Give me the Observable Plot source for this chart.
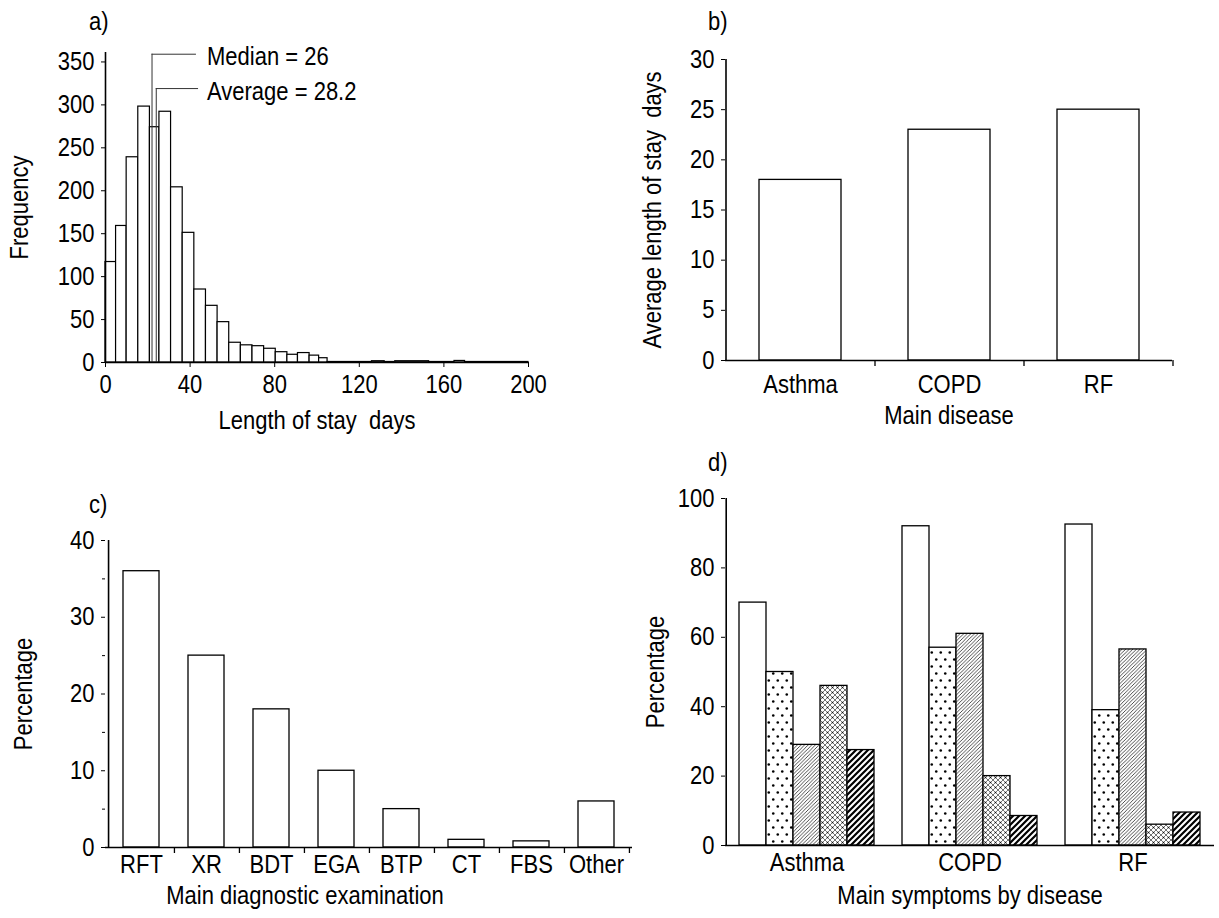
<!DOCTYPE html>
<html>
<head>
<meta charset="utf-8">
<script src="https://cdn.jsdelivr.net/npm/d3@7"></script>
<script src="https://cdn.jsdelivr.net/npm/@observablehq/plot@0.6"></script>
<style>
  html, body { margin: 0; padding: 0; background: #fff; }
  #page { position: relative; width: 1219px; height: 918px; overflow: hidden; background: #fff;
          font-family: 'Liberation Sans', Arial, sans-serif; color: #000; }
  .panel { position: absolute; }
  .tag { position: absolute; font-size: 25px; line-height: 1; transform: scaleX(0.88); transform-origin: left top; }
</style>
</head>
<body>
<svg style="position:absolute;width:0;height:0" aria-hidden="true">
  <defs>
    <pattern id="pDots" width="9" height="14" patternUnits="userSpaceOnUse">
      <rect width="9" height="14" fill="#fff"/>
      <circle cx="2.25" cy="3.5" r="1.3" fill="#000"/>
      <circle cx="6.75" cy="10.5" r="1.3" fill="#000"/>
    </pattern>
    <pattern id="pHatch" width="3.6" height="3.6" patternUnits="userSpaceOnUse">
      <rect width="3.6" height="3.6" fill="#fff"/>
      <path d="M-0.9,0.9 L0.9,-0.9 M0,3.6 L3.6,0 M2.7,4.5 L4.5,2.7" stroke="#222" stroke-width="0.8"/>
    </pattern>
    <pattern id="pCross" width="5" height="5" patternUnits="userSpaceOnUse">
      <rect width="5" height="5" fill="#fff"/>
      <path d="M0,0 L5,5 M5,0 L0,5" stroke="#444" stroke-width="0.75"/>
      <circle cx="2.5" cy="2.5" r="0.8" fill="#111"/>
    </pattern>
    <pattern id="pThick" width="6" height="6" patternUnits="userSpaceOnUse">
      <rect width="6" height="6" fill="#fff"/>
      <path d="M-1.5,1.5 L1.5,-1.5 M0,6 L6,0 M4.5,7.5 L7.5,4.5" stroke="#000" stroke-width="2.2"/>
    </pattern>
  </defs>
</svg>
<div id="page"></div>
<script>
// ---------------- Data: panel a (histogram of length of stay) ----------------
const histStart = [0, 5, 10, 15.5, 21, 25.5, 31, 36.5, 42, 47.5, 53, 58.5, 64, 69.5, 75, 80.5, 86, 91, 96.5, 101];
const histEnd   = [5, 10, 15.5, 21, 25.5, 31, 36.5, 42, 47.5, 53, 58.5, 64, 69.5, 75, 80.5, 86, 91, 96.5, 101, 105];
const histFreq  = [117, 159, 239, 298, 274, 292, 204, 151, 85, 66, 47, 23, 20, 19, 16, 12, 9, 11, 8, 5];
const tailStart = [105, 126, 132, 137, 153, 165, 170];
const tailEnd   = [126, 132, 137, 153, 165, 170, 200];
const tailFreq  = [0.6, 1.5, 0.6, 1.5, 0.6, 1.8, 0.6];
const aXTicks = [0, 40, 80, 120, 160, 200];
const aYTicks = [0, 50, 100, 150, 200, 250, 300, 350];
const statLabels   = ["Median = 26", "Average = 28.2"];
const statLeaderX  = [22, 24];
const statLeaderEndX = [43, 44];
const statLevel    = [359, 319];
const statTextX    = [48, 48];

// ---------------- Data: panel b ----------------
const diseases = ["Asthma", "COPD", "RF"];
const avgStay  = [18, 23, 25];
const bYTicks  = [0, 5, 10, 15, 20, 25, 30];

// ---------------- Data: panel c ----------------
const exams   = ["RFT", "XR", "BDT", "EGA", "BTP", "CT", "FBS", "Other"];
const examPct = [36, 25, 18, 10, 5, 1, 0.8, 6];
const cYTicks = [0, 10, 20, 30, 40];
const cMinorTicks = [5, 15, 25, 35];
const cTitle = "Main diagnostic examination";

// ---------------- Data: panel d ----------------
const symptoms  = ["Symptom 1", "Symptom 2", "Symptom 3", "Symptom 4", "Symptom 5"];
const asthmaPct = [70, 50, 29, 46, 27.5];
const copdPct   = [92, 57, 61, 20, 8.5];
const rfPct     = [92.5, 39, 56.5, 6, 9.5];
const dYTicks   = [0, 20, 40, 60, 80, 100];

// ---------------- Styling ----------------
const FONT = "'Liberation Sans', Arial, sans-serif";
const NARROW = 0.88; // condensed look of the original typeface
const baseStyle = {fontFamily: FONT, fontSize: "25px", color: "#000", background: "transparent", overflow: "visible"};
const patternOf = {
  "Symptom 1": "white",
  "Symptom 2": "url(#pDots)",
  "Symptom 3": "url(#pHatch)",
  "Symptom 4": "url(#pCross)",
  "Symptom 5": "url(#pThick)"
};
const page = document.getElementById("page");
function place(node, left, top) {
  const div = document.createElement("div");
  div.className = "panel";
  div.style.left = left + "px";
  div.style.top = top + "px";
  div.appendChild(node);
  page.appendChild(div);
  node.querySelectorAll("text").forEach((t) => {
    if (t.querySelector("tspan")) return;
    const len = t.getComputedTextLength();
    if (len > 0) {
      t.setAttribute("textLength", (len * NARROW).toFixed(2));
      t.setAttribute("lengthAdjust", "spacingAndGlyphs");
    }
  });
}
function tag(text, left, top) {
  const d = document.createElement("div");
  d.className = "tag";
  d.textContent = text;
  d.style.left = left + "px";
  d.style.top = top + "px";
  page.appendChild(d);
}

// ---------------- Panel a ----------------
const histBins = histStart.map((s, i) => ({x1: s, x2: histEnd[i], f: histFreq[i]}));
const tailBins = tailStart.map((s, i) => ({x1: s, x2: tailEnd[i], f: tailFreq[i]}));
const stats = statLabels.map((label, i) => ({label, lx: statLeaderX[i], ex: statLeaderEndX[i], ly: statLevel[i], tx: statTextX[i]}));
const A = {w: 560, h: 440, ml: 105, mr: 32, mt: 52, mb: 78};
const aPlot = Plot.plot({
  width: A.w, height: A.h, marginLeft: A.ml, marginRight: A.mr, marginTop: A.mt, marginBottom: A.mb,
  style: baseStyle,
  x: {domain: [0, 200], ticks: aXTicks, tickSize: 5, tickPadding: 8, tickFormat: d3.format("d"),
      label: "Length of stay\u00a0 days", labelAnchor: "center", labelOffset: 66, labelArrow: "none"},
  y: {domain: [0, 361], ticks: aYTicks, tickSize: 4, tickPadding: 7, tickFormat: d3.format("d"),
      label: "Frequency", labelAnchor: "center", labelOffset: 95, labelArrow: "none"},
  marks: [
    Plot.rect(histBins, {x1: "x1", x2: "x2", y1: () => 0, y2: "f", fill: "white", stroke: "black", strokeWidth: 1.2}),
    Plot.rect(tailBins, {x1: "x1", x2: "x2", y1: () => 0, y2: "f", fill: "white", stroke: "black", strokeWidth: 1.2}),
    Plot.ruleX(stats, {x: "lx", y1: () => 0, y2: "ly", stroke: "#333", strokeWidth: 1}),
    Plot.ruleY(stats, {y: "ly", x1: "lx", x2: "ex", stroke: "#333", strokeWidth: 1}),
    Plot.text(stats, {x: "tx", y: "ly", text: "label", textAnchor: "start", fontSize: 25, dy: 3}),
    Plot.ruleX([0], {strokeWidth: 1.6}),
    Plot.ruleY([0], {strokeWidth: 1.6})
  ]
});
place(aPlot, 0, 0);
tag("a)", 89, 9);

// ---------------- Panel b ----------------
const B = {w: 619, h: 440, ml: 125, mr: 47, mt: 59, mb: 80};
const bInnerW = B.w - B.ml - B.mr, bInnerH = B.h - B.mt - B.mb;
const bStep = bInnerW / diseases.length;
const bTick = 6 * 30 / bInnerH;
const bPlot = Plot.plot({
  width: B.w, height: B.h, marginLeft: B.ml, marginRight: B.mr, marginTop: B.mt, marginBottom: B.mb,
  style: baseStyle,
  x: {domain: diseases, paddingInner: 0.45, paddingOuter: 0.225, tickSize: 0, tickPadding: 15,
      label: "Main disease", labelAnchor: "center", labelOffset: 63, labelArrow: "none"},
  y: {domain: [0, 30], ticks: bYTicks, tickSize: 4, tickPadding: 7,
      label: "Average length of stay\u00a0 days", labelAnchor: "center", labelOffset: 82, labelArrow: "none"},
  marks: [
    Plot.barY(diseases, {x: (d) => d, y: (d, i) => avgStay[i], fill: "white", stroke: "black", strokeWidth: 1.3}),
    Plot.ruleY([0], {strokeWidth: 1.6}),
    Plot.ruleX([diseases[0]], {dx: -bStep / 2, strokeWidth: 1.6}),
    Plot.ruleX(diseases, {x: (d) => d, y1: () => 0, y2: () => -bTick, dx: bStep / 2, strokeWidth: 1.3})
  ]
});
place(bPlot, 600, 0);
tag("b)", 708, 9);

// ---------------- Panel c ----------------
const C = {w: 640, h: 438, ml: 105, mr: 8, mt: 60, mb: 71};
const cInnerW = C.w - C.ml - C.mr, cInnerH = C.h - C.mt - C.mb;
const cStep = cInnerW / exams.length;
const cTick = 6 * 40 / cInnerH;
const cPlot = Plot.plot({
  width: C.w, height: C.h, marginLeft: C.ml, marginRight: C.mr, marginTop: C.mt, marginBottom: C.mb,
  style: baseStyle,
  x: {domain: exams, paddingInner: 0.45, paddingOuter: 0.225, tickSize: 0, tickPadding: 8, label: null},
  y: {domain: [0, 40], ticks: cYTicks, tickSize: 4, tickPadding: 7,
      label: "Percentage", labelAnchor: "center", labelOffset: 91, labelArrow: "none"},
  marks: [
    Plot.barY(exams, {x: (d) => d, y: (d, i) => examPct[i], fill: "white", stroke: "black", strokeWidth: 1.3}),
    Plot.ruleY([0], {strokeWidth: 1.6}),
    Plot.ruleY(cMinorTicks, {y: (d) => d, insetLeft: -3, insetRight: cInnerW, strokeWidth: 1}),
    Plot.ruleX([exams[0]], {dx: -cStep / 2, strokeWidth: 1.6}),
    Plot.ruleX(exams, {x: (d) => d, y1: () => 0, y2: () => -cTick, dx: cStep / 2, strokeWidth: 1.3}),
    Plot.text([cTitle], {text: (d) => d, frameAnchor: "bottom", lineAnchor: "bottom", dx: -64, dy: 56, fontSize: 25})
  ]
});
place(cPlot, 0, 480);
tag("c)", 89, 492);

// ---------------- Panel d ----------------
const dValues = [asthmaPct, copdPct, rfPct];
const dRows = [];
diseases.forEach((dis, i) => symptoms.forEach((s, j) => dRows.push({disease: dis, symptom: s, value: dValues[i][j]})));
const D = {w: 619, h: 458, ml: 125, mr: 5, mt: 38, mb: 73};
const dInnerW = D.w - D.ml - D.mr, dInnerH = D.h - D.mt - D.mb;
const dFacetW = dInnerW / diseases.length;
const dPadOuter = 0.48;
const dBarStep = dFacetW / (symptoms.length + 2 * dPadOuter);
const dFirstCenter = dBarStep * dPadOuter + dBarStep / 2;
const dTick = 6 * 100 / dInnerH;
const dPlot = Plot.plot({
  width: D.w, height: D.h, marginLeft: D.ml, marginRight: D.mr, marginTop: D.mt, marginBottom: D.mb,
  style: baseStyle,
  facet: {data: dRows, x: "disease"},
  fx: {domain: diseases, padding: 0, axis: "bottom", tickSize: 0, tickPadding: 8,
       label: "Main symptoms by disease", labelAnchor: "center", labelOffset: 58, labelArrow: "none"},
  x: {domain: symptoms, paddingInner: 0, paddingOuter: dPadOuter, axis: null},
  y: {domain: [0, 100], ticks: dYTicks, tickSize: 4, tickPadding: 7,
      label: "Percentage", labelAnchor: "center", labelOffset: 79, labelArrow: "none"},
  color: {type: "identity"},
  marks: [
    Plot.barY(dRows, {x: "symptom", y: "value", fill: (d) => patternOf[d.symptom], stroke: "black", strokeWidth: 1.3}),
    Plot.ruleY([0], {strokeWidth: 1.6}),
    Plot.ruleX(dRows, {filter: (d) => d.disease === diseases[0] && d.symptom === symptoms[0], x: "symptom", dx: -dFirstCenter, strokeWidth: 1.6}),
    Plot.ruleX(["edge"], {y1: () => 0, y2: () => -dTick, dx: dFacetW / 2, strokeWidth: 1.3})
  ]
});
place(dPlot, 600, 460);
tag("d)", 708, 450);
</script>
</body>
</html>
